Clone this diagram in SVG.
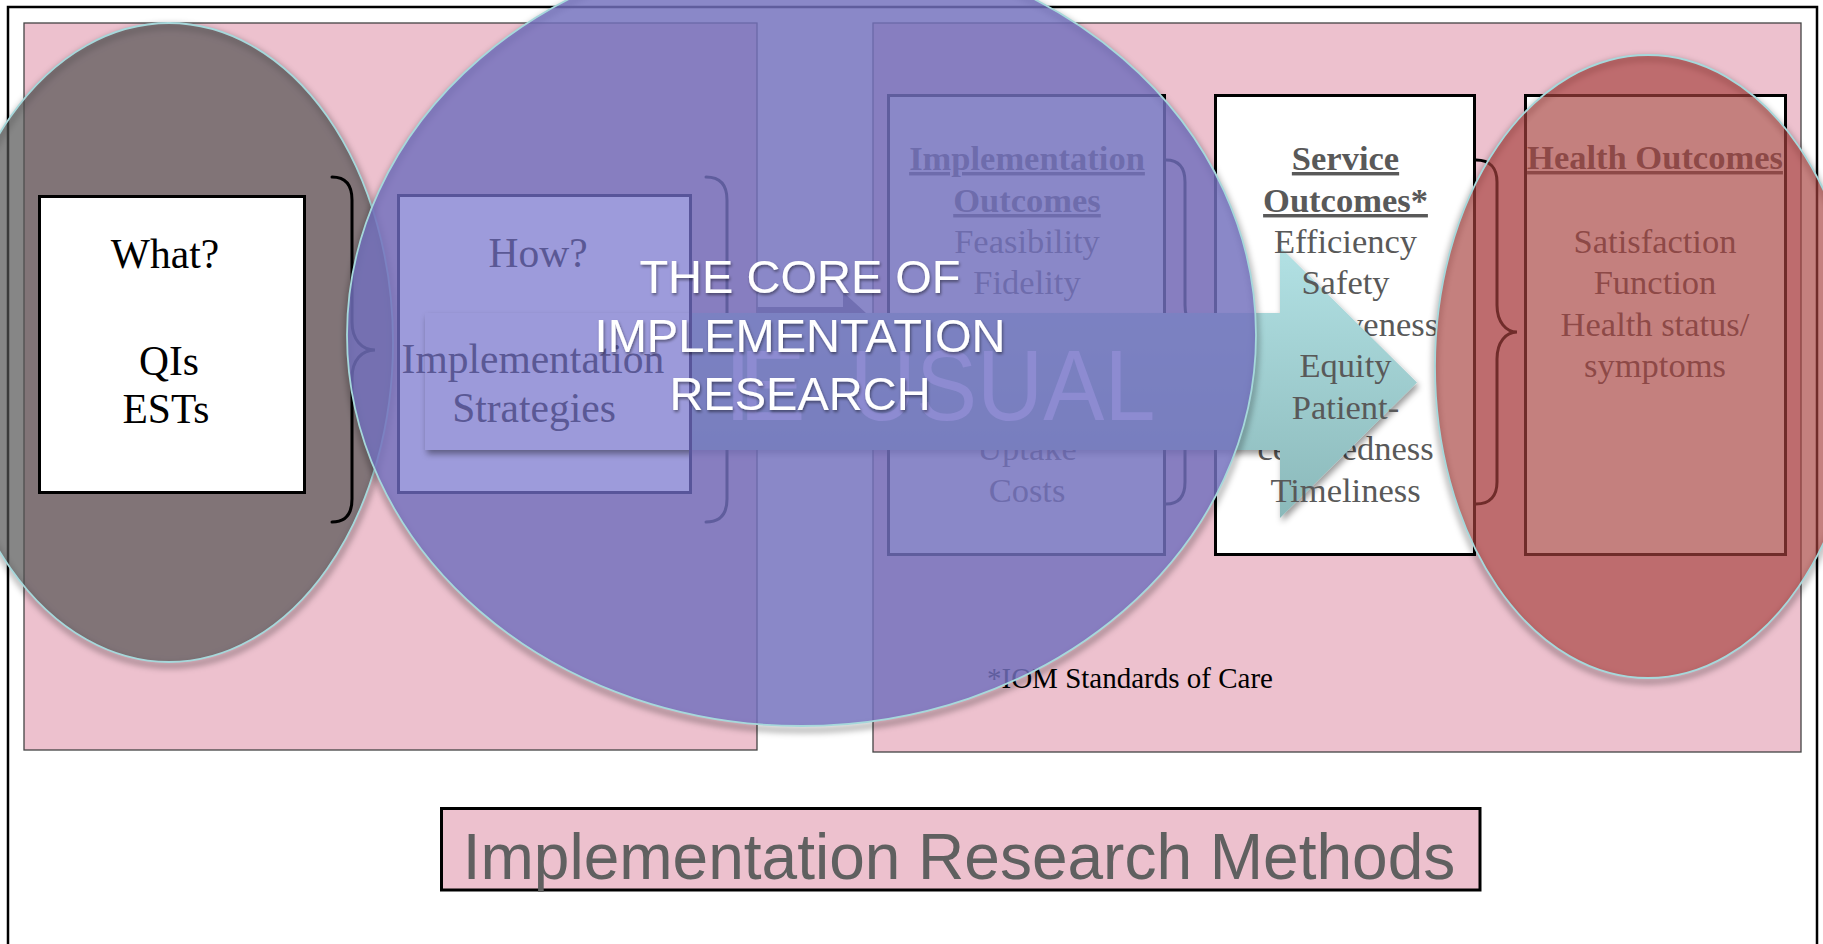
<svg xmlns="http://www.w3.org/2000/svg" width="1823" height="944" viewBox="0 0 1823 944">
<defs>
<style>
.serif{font-family:"Liberation Serif","Times New Roman",serif}
.sans{font-family:"Liberation Sans",Arial,sans-serif}
.box{fill:#fff;stroke:#000;stroke-width:3}
.brace{fill:none;stroke:#000;stroke-width:3;stroke-linecap:round}
.t41{font-size:41.5px;text-anchor:middle;fill:#000}
.t35{font-size:34.5px;text-anchor:middle;fill:#595959}
.b{font-weight:bold;text-decoration:underline}
.pink{fill:#EDC1CE;stroke:#444;stroke-width:1.3}
.edge{fill:none;stroke:#A6D8DB;stroke-width:1.8}
.ring{fill:none;stroke:#000;stroke-opacity:0.35;stroke-width:5}
</style>
<filter id="blur" x="-10%" y="-10%" width="120%" height="120%"><feGaussianBlur stdDeviation="3"/></filter>
<filter id="ash" x="-5%" y="-10%" width="110%" height="130%"><feDropShadow dx="2" dy="4" stdDeviation="3" flood-color="#000" flood-opacity="0.4"/></filter>
<filter id="tsh" x="-5%" y="-20%" width="110%" height="150%"><feDropShadow dx="1" dy="2" stdDeviation="1.5" flood-color="#000" flood-opacity="0.45"/></filter>
<linearGradient id="teal" x1="0" y1="0" x2="0" y2="1"><stop offset="0" stop-color="#B2E1E4"/><stop offset="1" stop-color="#8BB9BA"/></linearGradient>
<clipPath id="b2clip"><rect x="400" y="197" width="289" height="294"/></clipPath>
</defs>

<rect x="0" y="0" width="1823" height="944" fill="#fff"/>

<g id="background">
<rect class="pink" x="24" y="23" width="733" height="727"/>
<rect class="pink" x="873" y="23" width="928" height="729"/>
<rect x="8" y="7" width="1809" height="1000" fill="none" stroke="#000" stroke-width="2.5"/>
</g>

<g id="ellipse-what">
<ellipse class="ring" cx="170" cy="346" rx="224" ry="319.5" filter="url(#blur)"/>
<ellipse cx="169" cy="342.5" rx="224" ry="319.5" fill="rgb(82,82,82)" fill-opacity="0.7"/>
<ellipse class="edge" cx="169" cy="342.5" rx="224" ry="319.5"/>
</g>

<g id="connectors">
<path class="brace" d="M332,177 C346,177 352,185 352,200 L352,322 C352,340 362,350 375,350 C362,350 352,360 352,378 L352,499 C352,514 346,522 332,522"/>
<path class="brace" d="M706,177 C720,177 727,185 727,200 L727,322 C727,340 737,350 750,350 C737,350 727,360 727,378 L727,499 C727,514 720,522 706,522"/>
<path class="brace" d="M1166,160 C1179,160 1185,168 1185,182 L1185,305 C1185,322 1194,332 1205,332 C1194,332 1185,342 1185,359 L1185,482 C1185,496 1179,504 1166,504"/>
<path class="brace" d="M1476,160 C1490,160 1497,168 1497,182 L1497,305 C1497,322 1506,332 1517,332 C1506,332 1497,342 1497,359 L1497,482 C1497,496 1490,504 1476,504"/>
</g>

<g id="node-what">
<rect class="box" x="39.5" y="196.5" width="265" height="296"/>
<text class="serif t41" x="165" y="268">What?</text>
<text class="serif t41" x="169" y="375">QIs</text>
<text class="serif t41" x="166" y="423">ESTs</text>
</g>

<g id="node-impl-outcomes">
<rect class="box" x="888.5" y="95.5" width="276" height="459"/>
<text class="serif t35 b" x="1027" y="170">Implementation</text>
<text class="serif t35 b" x="1027" y="212">Outcomes</text>
<text class="serif t35" x="1027" y="253">Feasibility</text>
<text class="serif t35" x="1027" y="294">Fidelity</text>
<text class="serif t35" x="1027" y="460">Uptake</text>
<text class="serif t35" x="1027" y="502">Costs</text>
</g>

<g id="node-service-outcomes">
<rect class="box" x="1215.5" y="95.5" width="259" height="459"/>
<text class="serif t35 b" x="1345.5" y="170">Service</text>
<text class="serif t35 b" x="1345.5" y="212">Outcomes*</text>
<text class="serif t35" x="1345.5" y="336">Effectiveness</text>
<text class="serif t35" x="1345.5" y="460">centeredness</text>
</g>

<g id="node-health-outcomes">
<rect class="box" x="1525.5" y="95.5" width="260" height="459"/>
<text class="serif t35 b" x="1655" y="169">Health Outcomes</text>
<text class="serif t35" x="1655" y="253">Satisfaction</text>
<text class="serif t35" x="1655" y="294">Function</text>
<text class="serif t35" x="1655" y="336">Health status/</text>
<text class="serif t35" x="1655" y="377">symptoms</text>
</g>

<g id="note">
<text class="serif" x="987" y="688" font-size="29" fill="#000">*IOM Standards of Care</text>
</g>

<g id="arrow">
<path d="M425,313 H1280 V247 L1417,382.5 L1280,518 V450 H425 Z" fill="url(#teal)" filter="url(#ash)"/>
</g>

<g id="service-lines">
<text class="serif t35" x="1345.5" y="253">Efficiency</text>
<text class="serif t35" x="1345.5" y="294">Safety</text>
<text class="serif t35" x="1345.5" y="377">Equity</text>
<text class="serif t35" x="1345.5" y="419">Patient-</text>
<text class="serif t35" x="1345.5" y="502">Timeliness</text>
</g>

<g id="ellipse-core">
<ellipse class="ring" cx="802" cy="339" rx="454.5" ry="391" filter="url(#blur)"/>
<ellipse cx="801.5" cy="335" rx="454.5" ry="391" fill="rgb(114,112,189)" fill-opacity="0.83"/>
<ellipse class="edge" cx="801.5" cy="335" rx="454.5" ry="391"/>
</g>

<g id="node-how">
<rect x="398.5" y="195.5" width="292" height="297" fill="#9D9BDB"/>
<g clip-path="url(#b2clip)">
<rect x="425" y="313" width="300" height="137" fill="#9C9ADA" filter="url(#ash)"/>
</g>
<rect x="398.5" y="195.5" width="292" height="297" fill="none" stroke="#58559A" stroke-width="3"/>
<text class="serif t41" x="538" y="267" fill="#5A5895" style="fill:#5A5895">How?</text>
<text class="serif t41" x="533" y="373" style="fill:#5A5895">Implementation</text>
<text class="serif t41" x="534" y="422" style="fill:#5A5895">Strategies</text>
</g>

<g id="hidden-arrow">
<polygon points="757,307 843,307 843,292 866,313 757,313" fill="#716FB2"/>
<text class="sans" font-size="100" fill="#8D8BD1"><tspan x="724" y="420">I</tspan><tspan x="739" y="420">E</tspan></text>
<text class="sans" font-size="100" fill="#8D8BD1" x="849.8" y="420" textLength="305.6" lengthAdjust="spacingAndGlyphs">USUAL</text>
</g>

<g id="core-label" filter="url(#tsh)">
<text class="sans" x="800" y="293" font-size="47" fill="#fff" text-anchor="middle">THE CORE OF</text>
<text class="sans" x="800" y="352" font-size="47" fill="#fff" text-anchor="middle">IMPLEMENTATION</text>
<text class="sans" x="800" y="410" font-size="47" fill="#fff" text-anchor="middle">RESEARCH</text>
</g>

<g id="ellipse-health">
<ellipse class="ring" cx="1648" cy="370" rx="213" ry="311.5" filter="url(#blur)"/>
<ellipse cx="1648" cy="366.5" rx="213" ry="311.5" fill="rgb(167,66,63)" fill-opacity="0.67"/>
<ellipse class="edge" cx="1648" cy="366.5" rx="213" ry="311.5"/>
</g>

<g id="node-methods">
<rect x="441.5" y="808.5" width="1038.5" height="81.5" fill="#EDC1CE" stroke="#000" stroke-width="3"/>
<text class="sans" x="959" y="879" font-size="64" fill="#606060" text-anchor="middle">Implementation Research Methods</text>
</g>
</svg>
